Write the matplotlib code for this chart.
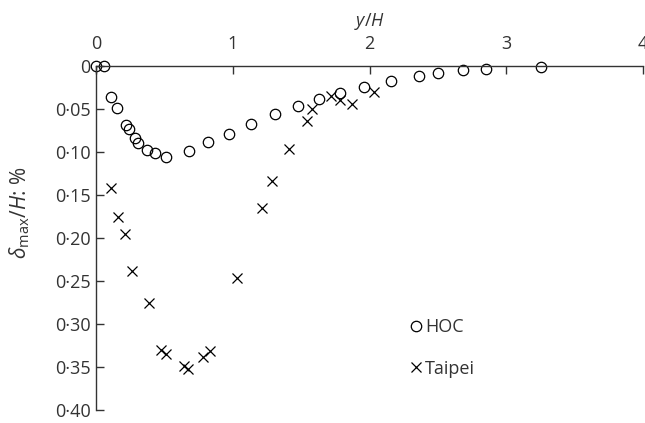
"""
Max deflection vs distance behind the wall: HOC and Taipei cases
"""
import matplotlib
matplotlib.use('Agg')
from matplotlib import pyplot as plt

plt.rcParams['font.family'] = ['Open Sans', 'DejaVu Sans']
plt.rcParams['mathtext.fontset'] = 'custom'
plt.rcParams['mathtext.rm'] = 'Open Sans'
plt.rcParams['mathtext.it'] = 'Open Sans:italic'

# HOC data (y/H, delta_max/H in %)
hoc_x = [0.0, 0.06, 0.11, 0.15, 0.22, 0.24, 0.285, 0.31, 0.37, 0.43, 0.51, 0.68, 0.82, 0.97,
         1.13, 1.31, 1.48, 1.63, 1.78, 1.96, 2.16, 2.36, 2.50, 2.68, 2.85, 3.25]
hoc_y = [0.0, 0.0, 0.036, 0.049, 0.069, 0.073, 0.084, 0.090, 0.098, 0.101, 0.106, 0.099, 0.088, 0.079,
         0.067, 0.056, 0.046, 0.038, 0.032, 0.024, 0.017, 0.012, 0.008, 0.005, 0.004, 0.001]

# Taipei data
tp_x = [0.11, 0.16, 0.21, 0.26, 0.39, 0.475, 0.51, 0.64, 0.675, 0.78, 0.83, 1.03, 1.21, 1.29,
        1.41, 1.54, 1.58, 1.72, 1.78, 1.87, 2.03]
tp_y = [0.142, 0.176, 0.196, 0.239, 0.276, 0.330, 0.335, 0.349, 0.353, 0.338, 0.332, 0.247, 0.165, 0.134,
        0.096, 0.064, 0.050, 0.035, 0.040, 0.044, 0.030]

x_ticks = [0, 1, 2, 3, 4]
y_ticks = [0, 0.05, 0.10, 0.15, 0.20, 0.25, 0.30, 0.35, 0.40]
y_tick_labels = ['0', '0·05', '0·10', '0·15', '0·20', '0·25', '0·30', '0·35', '0·40']

fig = plt.figure(figsize=(6.45, 4.23), dpi=100)
ax = fig.add_axes([0.149, 0.031, 0.848, 0.813])

ax.plot(hoc_x, hoc_y, 'o', mfc='none', mec='black', ms=7.5, mew=0.9, label='HOC', clip_on=False)
ax.plot(tp_x, tp_y, 'x', color='black', ms=7.5, mew=0.9, label='Taipei', clip_on=False)

ax.set_xlim(0, 4)
ax.set_ylim(0.40, 0)
ax.set_xticks(x_ticks)
ax.set_yticks(y_ticks)
ax.set_yticklabels(y_tick_labels)

ax.xaxis.tick_top()
ax.xaxis.set_label_position('top')
ax.spines['bottom'].set_visible(False)
ax.spines['right'].set_visible(False)
for s in ['top', 'left']:
    ax.spines[s].set_color('#333333')
    ax.spines[s].set_linewidth(1.0)
ax.tick_params(direction='in', length=6, width=1.0, color='#333333', labelsize=13,
               labelcolor='#333333', pad=4)
ax.tick_params(axis='x', pad=9)

ax.set_xlabel('$y$/$H$', fontsize=13, color='#333333', labelpad=7)
ax.set_ylabel(r'$\delta_{\mathrm{max}}$/$H$: %', fontsize=15, color='#333333')
ax.yaxis.set_label_coords(-0.118, 0.573)

ax.legend(loc='center left', bbox_to_anchor=(0.545, 0.18), frameon=False, fontsize=13,
          handlelength=0.6, handletextpad=0.2, labelspacing=1.3, labelcolor='#333333')

plt.savefig('out.png')
